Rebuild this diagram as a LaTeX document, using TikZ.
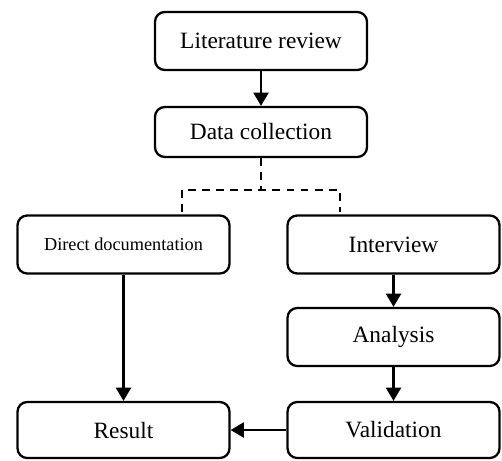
\documentclass[tikz,border=0pt]{standalone}
\usepackage{fontspec}
\setmainfont{Liberation Serif}
\usepackage{tikz}
\usetikzlibrary{arrows.meta}

\begin{document}
\begin{tikzpicture}[x=0.02cm,y=-0.02cm,>={Triangle[width=8.5pt,length=7.5pt]},
	  stagebox/.style={draw,line width=1.3pt,rounded corners=5.5pt,minimum width=4.24cm,
	    minimum height=1.16cm,font=\fontsize{13.3}{16}\selectfont}]
	  \useasboundingbox (0,0) rectangle (502,460);
	  \node[stagebox] (lit) at (261,41) {Literature review};
	  \node[stagebox,minimum height=1cm] (data) at (261,132) {Data collection};
	  \node[stagebox,font=\fontsize{10.4}{12}\selectfont] (direct) at (123.5,244.5) {Direct documentation};
	  \node[stagebox] (inter) at (393.5,244.5) {Interview};
	  \node[stagebox] (anal) at (393.5,337) {Analysis};
	  \node[stagebox,minimum height=1.12cm] (res) at (123.5,430) {Result};
	  \node[stagebox,minimum height=1.12cm] (valid) at (393.5,430) {Validation};
	  \coordinate (fork) at (261,190);
	  \coordinate (dl) at (182,212); \coordinate (dr) at (340,212);
	  \draw[line width=0.8pt,dash pattern=on 4.5pt off 3.5pt] (data.south)--(fork);
	  \draw[line width=0.8pt,dash pattern=on 4.5pt off 3.5pt] (dl)|-(fork)-|(dr);
	  \draw[->,line width=1.3pt](lit)--(data);
	  \draw[->,line width=1.3pt](direct)--(res);
	  \draw[->,line width=1.3pt](inter)--(anal);
	  \draw[->,line width=1.3pt](anal)--(valid);
	  \draw[->,line width=1.3pt](valid)--(res);
	\end{tikzpicture}
\end{document}
